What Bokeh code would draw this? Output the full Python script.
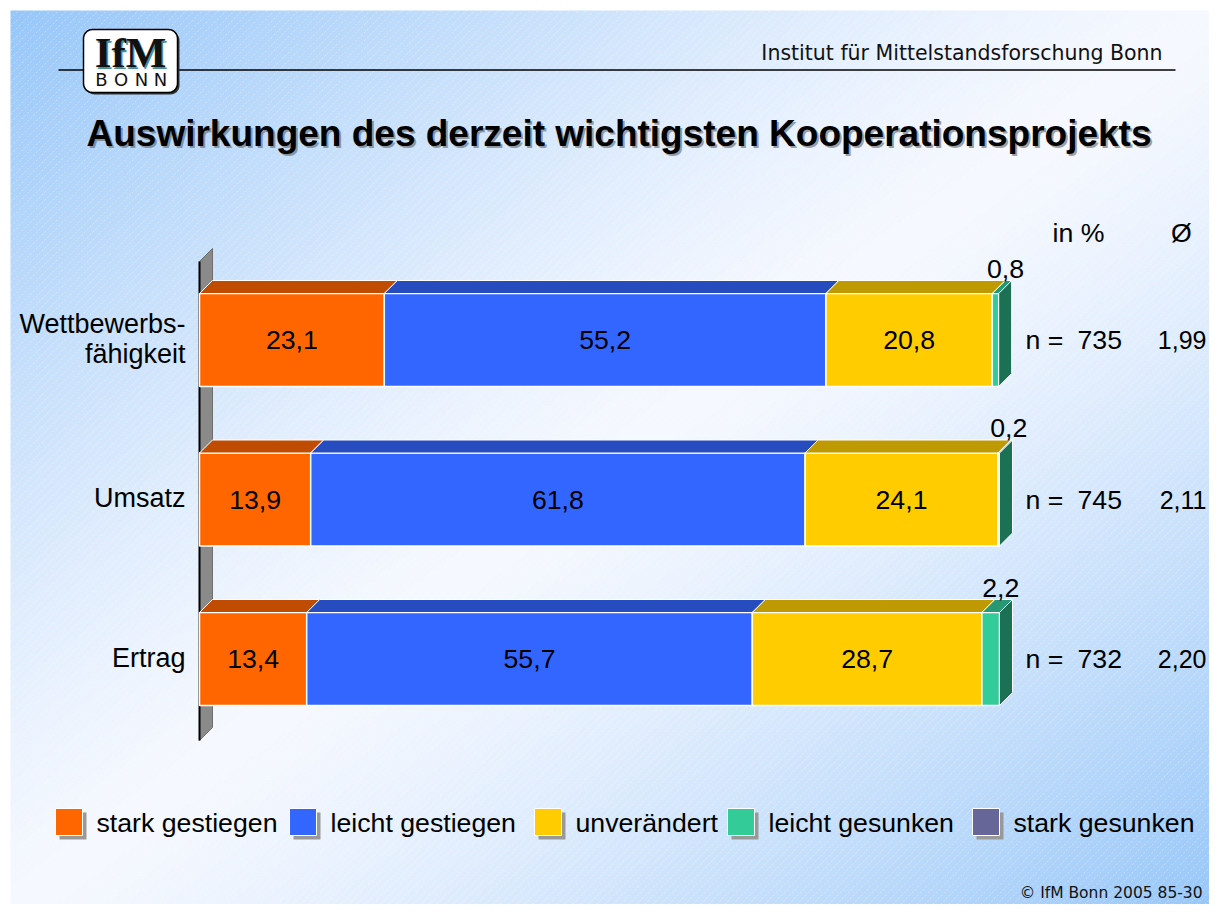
import numpy as np
from bokeh.plotting import figure
from bokeh.models import Range1d
from bokeh.core.properties import value
from bokeh.embed import file_html
from bokeh.resources import INLINE

# ---------------- data ----------------
categories = ["Wettbewerbsfähigkeit", "Umsatz", "Ertrag"]
category_lines = [["Wettbewerbs-", "fähigkeit"], ["Umsatz"], ["Ertrag"]]
series_names = ["stark gestiegen", "leicht gestiegen", "unverändert", "leicht gesunken", "stark gesunken"]
stark_gestiegen = [23.1, 13.9, 13.4]
leicht_gestiegen = [55.2, 61.8, 55.7]
unveraendert = [20.8, 24.1, 28.7]
leicht_gesunken = [0.8, 0.2, 2.2]
stark_gesunken = [0.0, 0.0, 0.0]
n_values = [735, 745, 732]
averages = ["1,99", "2,11", "2,20"]
series_colors = ["#FF6600", "#3366FF", "#FFCC00", "#33CC99", "#666699"]

title_text = "Auswirkungen des derzeit wichtigsten Kooperationsprojekts"
header_text = "Institut für Mittelstandsforschung Bonn"
footer_text = "© IfM Bonn 2005  85-30"

series_values = [stark_gestiegen, leicht_gestiegen, unveraendert, leicht_gesunken, stark_gesunken]

# ---------------- layout helpers ----------------
W, H = 1209, 904
OX, OY = 0, 0
X0, PXX = 199.0, 8.0      # ref pixel of 0 %, pixels per %
Y0, PXY = 339.5, 159.5    # ref pixel of first category centre, pixels per category


def X(rx):
    return (rx - X0) / PXX


def Y(ry):
    return (Y0 - ry) / PXY


BH = 93.0 / PXY
DX = 13.0 / PXX
DY = 13.0 / PXY

SANS = value("Liberation Sans")
TAHOMA = value("DejaVu Sans")
FS = "26.7px"


def shade(hexcol, f):
    h = hexcol.lstrip("#")
    r, g, b = (int(h[i:i + 2], 16) for i in (0, 2, 4))
    return "#%02x%02x%02x" % (int(r * f), int(g * f), int(b * f))


p = figure(width=W, height=H, output_backend="svg", toolbar_location=None,
           x_range=Range1d(X(OX), X(OX + W)), y_range=Range1d(Y(OY + H), Y(OY)),
           min_border=0, border_fill_color="white", background_fill_color="white")
p.axis.visible = False
p.grid.visible = False
p.outline_line_color = None

# ---------------- background gradient ----------------
bx0, by0 = 10, 10
bw, bh = OX + W - bx0, OY + H - by0
Nx, Ny = 300, 224
cols = bx0 + (np.arange(Nx) + 0.5) * bw / Nx
rows = by0 + bh - (np.arange(Ny) + 0.5) * bh / Ny
RX, RY = np.meshgrid(cols, rows)
t = ((RX - 10) / 1207 + (RY - 10) / 902) / 2.0
d = np.abs(2 * t - 1) ** 1.3
blue = np.array([150, 199, 250])
white = np.array([246, 249, 255])
img = np.empty((Ny, Nx), dtype=np.uint32)
view = img.view(dtype=np.uint8).reshape((Ny, Nx, 4))
for k in range(3):
    view[:, :, k] = (white[k] * (1 - d) + blue[k] * d).astype(np.uint8)
view[:, :, 3] = 255
p.image_rgba(image=[img], x=X(bx0), y=Y(by0 + bh), dw=bw / PXX, dh=bh / PXY)

# faint diagonal stripes
sx, sy = [], []
for c in range(bx0 + by0, bx0 + bw + by0 + bh + 8, 8):
    y_top, y_bot = by0, by0 + bh
    x_a, x_b = c - y_bot, c - y_top
    sx.append([X(max(x_a, bx0)), X(min(x_b, bx0 + bw))])
    sy.append([Y(c - max(x_a, bx0)), Y(c - min(x_b, bx0 + bw))])
p.multi_line(xs=sx, ys=sy, line_color="white", line_alpha=0.35, line_width=1, line_dash="2 2")

# ---------------- header ----------------
p.line(x=[X(58), X(1175)], y=[Y(69.5), Y(69.5)], line_color="black", line_width=1.5)


def rrect(x0, y0, x1, y1, r, n=10):
    pts = []
    corners = [(x1 - r, y0 + r, -90, 0), (x1 - r, y1 - r, 0, 90),
               (x0 + r, y1 - r, 90, 180), (x0 + r, y0 + r, 180, 270)]
    for cx, cy, a0, a1 in corners:
        for a in np.linspace(np.radians(a0), np.radians(a1), n):
            pts.append((cx + r * np.cos(a), cy + r * np.sin(a)))
    return [X(q[0]) for q in pts], [Y(q[1]) for q in pts]


lx, ly = rrect(85, 31, 179, 94, 9)
p.patch(x=lx, y=ly, fill_color="#333333", line_color=None)
lx, ly = rrect(83, 29, 177, 92, 9)
p.patch(x=lx, y=ly, fill_color="white", line_color="black", line_width=1.5)
p.text(x=[X(131.5)], y=[Y(53.5)], text=["IfM"], text_font=value("Liberation Serif"),
       text_font_size="43px", text_font_style="bold", text_color="#4a8fa0",
       text_align="center", text_baseline="middle")
p.text(x=[X(130)], y=[Y(52)], text=["IfM"], text_font=value("Liberation Serif"),
       text_font_size="43px", text_font_style="bold", text_color="#111111",
       text_align="center", text_baseline="middle")
p.text(x=[X(101), X(120.5), X(141), X(160)], y=[Y(79)] * 4, text=list("BONN"),
       text_font=value("DejaVu Sans"), text_font_size="18px", text_color="#111111",
       text_align="center", text_baseline="middle")

p.text(x=[X(1162)], y=[Y(52)], text=[header_text], text_font=TAHOMA,
       text_font_size="20.5px", text_color="#111111", text_align="right", text_baseline="middle")

# title with shadow
p.text(x=[X(88)], y=[Y(135)], text=[title_text], text_font=SANS, text_font_size="37px",
       text_font_style="bold", text_color="#555555", text_alpha=0.55,
       text_align="left", text_baseline="middle")
p.text(x=[X(86)], y=[Y(133)], text=[title_text], text_font=SANS, text_font_size="37px",
       text_font_style="bold", text_color="black", text_align="left", text_baseline="middle")

# ---------------- wall ----------------
wall_top, wall_bot = Y(261), Y(740)
p.patch(x=[0, DX, DX, 0], y=[wall_top, wall_top + DY, wall_bot + DY, wall_bot],
        fill_color="#8a8a8a", line_color="#6e6e6e", line_width=1)
p.line(x=[0, 0], y=[wall_top, wall_bot], line_color="black", line_width=2)

# ---------------- bars ----------------
val_x, val_y, val_t = [], [], []
small_x, small_y, small_t = [], [], []
for i in range(len(categories)):
    yc = -i
    top, bot = yc + BH / 2, yc - BH / 2
    left = 0.0
    segs = []
    for s, vals in enumerate(series_values):
        v = vals[i]
        if v <= 0:
            continue
        segs.append((s, left, left + v, v))
        left += v
    for s, l, r, v in segs:
        col = series_colors[s]
        p.quad(left=[l], right=[r], top=[top], bottom=[bot], fill_color=col,
               line_color="white", line_width=1.5)
        p.patch(x=[l, r, r + DX, l + DX], y=[top, top, top + DY, top + DY],
                fill_color=shade(col, 0.75), line_color="white", line_width=1)
        label = ("%.1f" % v).replace(".", ",")
        if v >= 5:
            val_x.append((l + r) / 2)
            val_y.append(yc)
            val_t.append(label)
        else:
            small_x.append((l + r) / 2 + 10 / PXX)
            small_y.append(top + 25 / PXY)
            small_t.append(label)
    s, l, r, v = segs[-1]
    p.patch(x=[r, r + DX, r + DX, r], y=[top, top + DY, bot + DY, bot],
            fill_color=shade(series_colors[s], 0.55), line_color="white", line_width=1)

p.text(x=val_x, y=val_y, text=val_t, text_font=SANS, text_font_size=FS,
       text_color="black", text_align="center", text_baseline="middle")
p.text(x=small_x, y=small_y, text=small_t, text_font=SANS, text_font_size=FS,
       text_color="black", text_align="center", text_baseline="middle")

# category labels
cx, cy, ct = [], [], []
for i, lines in enumerate(category_lines):
    nl = len(lines)
    for k, ln in enumerate(lines):
        cx.append(X(185))
        cy.append(-i - (k - (nl - 1) / 2) * 30 / PXY + 1.5 / PXY)
        ct.append(ln)
p.text(x=cx, y=cy, text=ct, text_font=SANS, text_font_size="27px", text_color="black",
       text_align="right", text_baseline="middle")

# n and averages
ys = [-i for i in range(len(categories))]
p.text(x=[X(1025)] * 3, y=ys, text=["n ="] * 3, text_font=SANS, text_font_size=FS,
       text_color="black", text_align="left", text_baseline="middle")
p.text(x=[X(1077)] * 3, y=ys, text=[str(n) for n in n_values], text_font=SANS,
       text_font_size=FS, text_color="black", text_align="left", text_baseline="middle")
p.text(x=[X(1206)] * 3, y=ys, text=averages, text_font=SANS, text_font_size="25px",
       text_color="black", text_align="right", text_baseline="middle")
p.text(x=[X(1078), X(1181)], y=[Y(232), Y(232)], text=["in %", "Ø"], text_font=SANS,
       text_font_size=FS, text_color="black", text_align="center", text_baseline="middle")

# ---------------- legend ----------------
leg_left = [55, 289, 534, 727, 972]
sq = 27
for k, name in enumerate(series_names):
    x0 = leg_left[k]
    p.quad(left=[X(x0 + 4)], right=[X(x0 + 4 + sq)], top=[Y(808 + 4)], bottom=[Y(808 + 4 + sq)],
           fill_color="#999999", line_color=None)
    p.quad(left=[X(x0)], right=[X(x0 + sq)], top=[Y(808)], bottom=[Y(808 + sq)],
           fill_color=series_colors[k], line_color="white", line_width=1)
p.text(x=[X(v + 41) for v in leg_left], y=[Y(822)] * 5, text=series_names, text_font=SANS,
       text_font_size=FS, text_color="black", text_align="left", text_baseline="middle")

# footer
p.text(x=[X(1207)], y=[Y(892)], text=[footer_text], text_font=TAHOMA, text_font_size="15.5px",
       text_color="#111111", text_align="right", text_baseline="middle")

open("out.html", "w").write(file_html(p, INLINE))
